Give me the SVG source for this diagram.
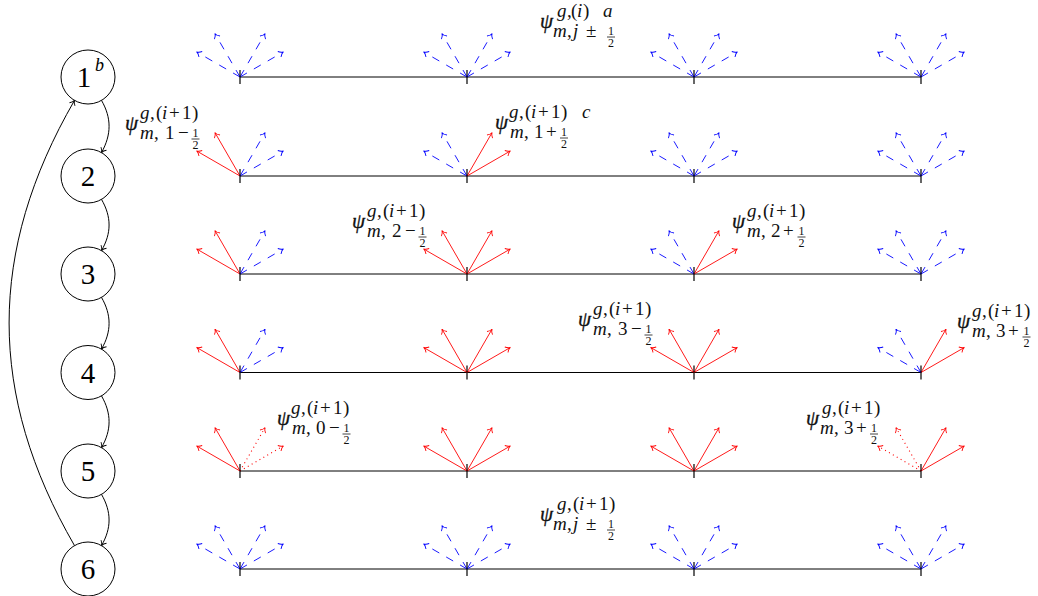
<svg xmlns="http://www.w3.org/2000/svg" width="1038" height="596" viewBox="0 0 1038 596">
<style>
.ln{stroke:#000;stroke-width:1;fill:none}
.tk{stroke:#000;stroke-width:1.2}
.b{stroke:#00f;stroke-width:0.9;stroke-dasharray:8 8;fill:none;marker-end:url(#ab)}
.r{stroke:#f00;stroke-width:0.9;fill:none;marker-end:url(#ar)}
.d{stroke:#f00;stroke-width:1.1;stroke-dasharray:1 3.5;fill:none;marker-end:url(#ar)}
.ed{stroke:#000;stroke-width:1;fill:none;marker-end:url(#ak)}
.nc{fill:#fff;stroke:#000;stroke-width:1}
.nt{font-family:"Liberation Serif",serif;font-size:29px;fill:#000;text-anchor:middle}
.ns{font-family:"Liberation Serif",serif;font-size:18px;font-style:italic;fill:#000}
.psi{font-family:"Liberation Serif",serif;font-size:21px;font-style:italic;fill:#111;stroke:#111;stroke-width:0.3}
.s{font-family:"Liberation Serif",serif;font-size:19px;fill:#111}
.f{font-family:"Liberation Serif",serif;font-size:12px;fill:#111;text-anchor:middle}
.fb{stroke:#111;stroke-width:0.8}
.i{font-style:italic}
</style>
<defs>
<marker id="ab" viewBox="-6 -5 8 10" refX="0" refY="0" markerWidth="8" markerHeight="10" markerUnits="userSpaceOnUse" orient="auto" overflow="visible"><path d="M-4.5,-3.2 C-3,-1.2 -1.2,-0.3 0,0 C-1.2,0.3 -3,1.2 -4.5,3.2" fill="none" stroke="#00f" stroke-width="0.9"/></marker>
<marker id="ar" viewBox="-6 -5 8 10" refX="0" refY="0" markerWidth="8" markerHeight="10" markerUnits="userSpaceOnUse" orient="auto" overflow="visible"><path d="M-4.5,-3.2 C-3,-1.2 -1.2,-0.3 0,0 C-1.2,0.3 -3,1.2 -4.5,3.2" fill="none" stroke="#f00" stroke-width="0.9"/></marker>
<marker id="ak" viewBox="-6 -5 8 10" refX="0" refY="0" markerWidth="8" markerHeight="10" markerUnits="userSpaceOnUse" orient="auto" overflow="visible"><path d="M-4.5,-3.2 C-3,-1.2 -1.2,-0.3 0,0 C-1.2,0.3 -3,1.2 -4.5,3.2" fill="none" stroke="#000" stroke-width="0.9"/></marker>
<g id="BL"><line class="b" x1="0" y1="0" x2="-43.3" y2="-25"/><line class="b" x1="0" y1="0" x2="-25" y2="-43.3"/></g>
<g id="BR"><line class="b" x1="0" y1="0" x2="43.3" y2="-25"/><line class="b" x1="0" y1="0" x2="25" y2="-43.3"/></g>
<g id="RL"><line class="r" x1="0" y1="0" x2="-43.3" y2="-25"/><line class="r" x1="0" y1="0" x2="-25" y2="-43.3"/></g>
<g id="RR"><line class="r" x1="0" y1="0" x2="43.3" y2="-25"/><line class="r" x1="0" y1="0" x2="25" y2="-43.3"/></g>
<g id="DL"><line class="d" x1="0" y1="0" x2="-43.3" y2="-25"/><line class="d" x1="0" y1="0" x2="-25" y2="-43.3"/></g>
<g id="DR"><line class="d" x1="0" y1="0" x2="43.3" y2="-25"/><line class="d" x1="0" y1="0" x2="25" y2="-43.3"/></g>
<line id="TK" class="tk" x1="0" y1="-7" x2="0" y2="7"/>
</defs>

<g id="connectors">
<line class="ln" x1="240" y1="77" x2="921" y2="77"/>
<line class="ln" x1="240" y1="176" x2="921" y2="176"/>
<line class="ln" x1="240" y1="274" x2="921" y2="274"/>
<line class="ln" x1="240" y1="372.5" x2="921" y2="372.5"/>
<line class="ln" x1="240" y1="471" x2="921" y2="471"/>
<line class="ln" x1="240" y1="569" x2="921" y2="569"/>
<path class="ed" d="M101.5,100.4 C111.6,117.9 111.6,134.5 101.5,152.6"/>
<path class="ed" d="M101.5,199.4 C111.6,216.9 111.6,233.1 101.5,250.6"/>
<path class="ed" d="M101.5,297.4 C111.6,314.9 111.6,331.6 101.5,349.1"/>
<path class="ed" d="M101.5,395.9 C111.6,413.4 111.6,430.1 101.5,447.6"/>
<path class="ed" d="M101.5,494.4 C111.6,511.9 111.6,528.1 101.5,545.6"/>
<path class="ed" d="M74.5,545.6 C-12.7,394.6 -12.7,251.4 74.5,100.4"/>
</g>

<g id="n1"><circle class="nc" cx="88" cy="77" r="27"/><text class="nt" x="84" y="87">1</text><text class="ns" x="95" y="71">b</text></g>
<g id="n2"><circle class="nc" cx="88" cy="176" r="27"/><text class="nt" x="88" y="186">2</text></g>
<g id="n3"><circle class="nc" cx="88" cy="274" r="27"/><text class="nt" x="88" y="284">3</text></g>
<g id="n4"><circle class="nc" cx="88" cy="372.5" r="27"/><text class="nt" x="88" y="382.5">4</text></g>
<g id="n5"><circle class="nc" cx="88" cy="471" r="27"/><text class="nt" x="88" y="481">5</text></g>
<g id="n6"><circle class="nc" cx="88" cy="569" r="27"/><text class="nt" x="88" y="579">6</text></g>

<g id="p1a" transform="translate(240,77)"><use href="#BL"/><use href="#BR"/><use href="#TK"/></g>
<g id="p1b" transform="translate(467,77)"><use href="#BL"/><use href="#BR"/><use href="#TK"/></g>
<g id="p1c" transform="translate(694,77)"><use href="#BL"/><use href="#BR"/><use href="#TK"/></g>
<g id="p1d" transform="translate(921,77)"><use href="#BL"/><use href="#BR"/><use href="#TK"/></g>

<g id="p2a" transform="translate(240,176)"><use href="#RL"/><use href="#BR"/><use href="#TK"/></g>
<g id="p2b" transform="translate(467,176)"><use href="#BL"/><use href="#RR"/><use href="#TK"/></g>
<g id="p2c" transform="translate(694,176)"><use href="#BL"/><use href="#BR"/><use href="#TK"/></g>
<g id="p2d" transform="translate(921,176)"><use href="#BL"/><use href="#BR"/><use href="#TK"/></g>

<g id="p3a" transform="translate(240,274)"><use href="#RL"/><use href="#BR"/><use href="#TK"/></g>
<g id="p3b" transform="translate(467,274)"><use href="#RL"/><use href="#RR"/><use href="#TK"/></g>
<g id="p3c" transform="translate(694,274)"><use href="#BL"/><use href="#RR"/><use href="#TK"/></g>
<g id="p3d" transform="translate(921,274)"><use href="#BL"/><use href="#BR"/><use href="#TK"/></g>

<g id="p4a" transform="translate(240,372.5)"><use href="#RL"/><use href="#BR"/><use href="#TK"/></g>
<g id="p4b" transform="translate(467,372.5)"><use href="#RL"/><use href="#RR"/><use href="#TK"/></g>
<g id="p4c" transform="translate(694,372.5)"><use href="#RL"/><use href="#RR"/><use href="#TK"/></g>
<g id="p4d" transform="translate(921,372.5)"><use href="#BL"/><use href="#RR"/><use href="#TK"/></g>

<g id="p5a" transform="translate(240,471)"><use href="#RL"/><use href="#DR"/><use href="#TK"/></g>
<g id="p5b" transform="translate(467,471)"><use href="#RL"/><use href="#RR"/><use href="#TK"/></g>
<g id="p5c" transform="translate(694,471)"><use href="#RL"/><use href="#RR"/><use href="#TK"/></g>
<g id="p5d" transform="translate(921,471)"><use href="#DL"/><use href="#RR"/><use href="#TK"/></g>

<g id="p6a" transform="translate(240,569)"><use href="#BL"/><use href="#BR"/><use href="#TK"/></g>
<g id="p6b" transform="translate(467,569)"><use href="#BL"/><use href="#BR"/><use href="#TK"/></g>
<g id="p6c" transform="translate(694,569)"><use href="#BL"/><use href="#BR"/><use href="#TK"/></g>
<g id="p6d" transform="translate(921,569)"><use href="#BL"/><use href="#BR"/><use href="#TK"/></g>

<!-- labels -->
<g id="lab1" transform="translate(540,5)">
<text class="psi" x="0" y="23">ψ</text>
<text class="s" y="12"><tspan class="i" x="17">g</tspan><tspan x="27">,</tspan><tspan x="31">(</tspan><tspan class="i" x="37">i</tspan><tspan x="43">)</tspan><tspan class="i" x="63">a</tspan></text>
<text class="s" y="32"><tspan class="i" x="13">m</tspan><tspan x="27">,</tspan><tspan class="i" x="33">j</tspan><tspan x="46">±</tspan></text>
<text class="f" x="71" y="29.5">1</text><line class="fb" x1="67" y1="32" x2="75" y2="32"/><text class="f" x="71" y="41.5">2</text>
</g>

<g id="lab2" transform="translate(125,107)">
<text class="psi" x="0" y="23">ψ</text>
<text class="s" y="12"><tspan class="i" x="15">g</tspan><tspan x="25">,</tspan><tspan x="31">(</tspan><tspan class="i" x="37">i</tspan><tspan x="44">+</tspan><tspan x="57">1</tspan><tspan x="67">)</tspan></text>
<text class="s" y="32"><tspan class="i" x="15">m</tspan><tspan x="29">,</tspan><tspan x="40">1</tspan><tspan x="53">−</tspan></text>
<text class="f" x="70.5" y="29.5">1</text><line class="fb" x1="66.5" y1="32" x2="74.5" y2="32"/><text class="f" x="70.5" y="41.5">2</text>
</g>

<g id="lab3" transform="translate(495,106)">
<text class="psi" x="0" y="23">ψ</text>
<text class="s" y="12"><tspan class="i" x="14">g</tspan><tspan x="24">,</tspan><tspan x="30">(</tspan><tspan class="i" x="36">i</tspan><tspan x="43">+</tspan><tspan x="56">1</tspan><tspan x="66">)</tspan><tspan class="i" x="87">c</tspan></text>
<text class="s" y="32"><tspan class="i" x="15">m</tspan><tspan x="29">,</tspan><tspan x="39">1</tspan><tspan x="51">+</tspan></text>
<text class="f" x="69" y="29.5">1</text><line class="fb" x1="65" y1="32" x2="73" y2="32"/><text class="f" x="69" y="41.5">2</text>
</g>

<g id="lab4" transform="translate(352,205)">
<text class="psi" x="0" y="23">ψ</text>
<text class="s" y="12"><tspan class="i" x="15">g</tspan><tspan x="25">,</tspan><tspan x="31">(</tspan><tspan class="i" x="37">i</tspan><tspan x="44">+</tspan><tspan x="57">1</tspan><tspan x="67">)</tspan></text>
<text class="s" y="32"><tspan class="i" x="15">m</tspan><tspan x="29">,</tspan><tspan x="40">2</tspan><tspan x="53">−</tspan></text>
<text class="f" x="70.5" y="29.5">1</text><line class="fb" x1="66.5" y1="32" x2="74.5" y2="32"/><text class="f" x="70.5" y="41.5">2</text>
</g>

<g id="lab5" transform="translate(732,205)">
<text class="psi" x="0" y="23">ψ</text>
<text class="s" y="12"><tspan class="i" x="15">g</tspan><tspan x="25">,</tspan><tspan x="31">(</tspan><tspan class="i" x="37">i</tspan><tspan x="44">+</tspan><tspan x="57">1</tspan><tspan x="67">)</tspan></text>
<text class="s" y="32"><tspan class="i" x="15">m</tspan><tspan x="29">,</tspan><tspan x="39">2</tspan><tspan x="51">+</tspan></text>
<text class="f" x="69.5" y="29.5">1</text><line class="fb" x1="65.5" y1="32" x2="73.5" y2="32"/><text class="f" x="69.5" y="41.5">2</text>
</g>

<g id="lab6" transform="translate(578,303)">
<text class="psi" x="0" y="23">ψ</text>
<text class="s" y="12"><tspan class="i" x="15">g</tspan><tspan x="25">,</tspan><tspan x="31">(</tspan><tspan class="i" x="37">i</tspan><tspan x="44">+</tspan><tspan x="57">1</tspan><tspan x="67">)</tspan></text>
<text class="s" y="32"><tspan class="i" x="15">m</tspan><tspan x="29">,</tspan><tspan x="40">3</tspan><tspan x="53">−</tspan></text>
<text class="f" x="70.5" y="29.5">1</text><line class="fb" x1="66.5" y1="32" x2="74.5" y2="32"/><text class="f" x="70.5" y="41.5">2</text>
</g>

<g id="lab7" transform="translate(957,305)">
<text class="psi" x="0" y="23">ψ</text>
<text class="s" y="12"><tspan class="i" x="15">g</tspan><tspan x="25">,</tspan><tspan x="31">(</tspan><tspan class="i" x="37">i</tspan><tspan x="44">+</tspan><tspan x="57">1</tspan><tspan x="67">)</tspan></text>
<text class="s" y="32"><tspan class="i" x="15">m</tspan><tspan x="29">,</tspan><tspan x="39">3</tspan><tspan x="51">+</tspan></text>
<text class="f" x="69.5" y="29.5">1</text><line class="fb" x1="65.5" y1="32" x2="73.5" y2="32"/><text class="f" x="69.5" y="41.5">2</text>
</g>

<g id="lab8" transform="translate(277,402)">
<text class="psi" x="0" y="23">ψ</text>
<text class="s" y="12"><tspan class="i" x="14">g</tspan><tspan x="24">,</tspan><tspan x="30">(</tspan><tspan class="i" x="36">i</tspan><tspan x="43">+</tspan><tspan x="56">1</tspan><tspan x="66">)</tspan></text>
<text class="s" y="32"><tspan class="i" x="15">m</tspan><tspan x="29">,</tspan><tspan x="39">0</tspan><tspan x="52">−</tspan></text>
<text class="f" x="69.5" y="29.5">1</text><line class="fb" x1="65.5" y1="32" x2="73.5" y2="32"/><text class="f" x="69.5" y="41.5">2</text>
</g>

<g id="lab9" transform="translate(806,402)">
<text class="psi" x="0" y="23">ψ</text>
<text class="s" y="12"><tspan class="i" x="16">g</tspan><tspan x="26">,</tspan><tspan x="32">(</tspan><tspan class="i" x="38">i</tspan><tspan x="45">+</tspan><tspan x="58">1</tspan><tspan x="68">)</tspan></text>
<text class="s" y="32"><tspan class="i" x="14">m</tspan><tspan x="28">,</tspan><tspan x="38">3</tspan><tspan x="50">+</tspan></text>
<text class="f" x="68" y="29.5">1</text><line class="fb" x1="64" y1="32" x2="72" y2="32"/><text class="f" x="68" y="41.5">2</text>
</g>

<g id="lab10" transform="translate(540,498)">
<text class="psi" x="0" y="23">ψ</text>
<text class="s" y="12"><tspan class="i" x="17">g</tspan><tspan x="27">,</tspan><tspan x="33">(</tspan><tspan class="i" x="39">i</tspan><tspan x="46">+</tspan><tspan x="59">1</tspan><tspan x="69">)</tspan></text>
<text class="s" y="32"><tspan class="i" x="13">m</tspan><tspan x="27">,</tspan><tspan class="i" x="33">j</tspan><tspan x="46">±</tspan></text>
<text class="f" x="71" y="29.5">1</text><line class="fb" x1="67" y1="32" x2="75" y2="32"/><text class="f" x="71" y="41.5">2</text>
</g>
</svg>
